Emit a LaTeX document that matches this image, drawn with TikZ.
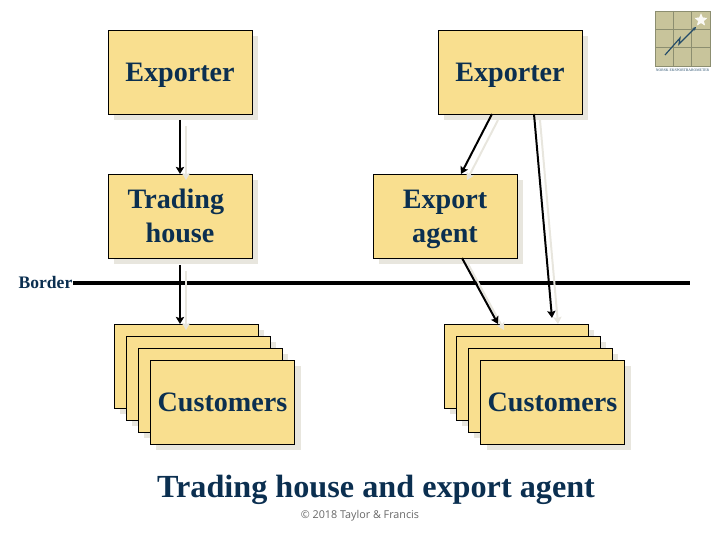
\documentclass[tikz,border=0pt]{standalone}
\usepackage{fontspec}
\setmainfont{Liberation Serif}
\newfontfamily\notefont{Open Sans}
\usetikzlibrary{arrows.meta,shadows,shapes.geometric}
\begin{document}
\begin{tikzpicture}[x=0.03cm,y=-0.03cm]
  % Colores
  \definecolor{boxcolor}{RGB}{249, 223, 143}
  \definecolor{textcolor}{RGB}{11, 47, 80}
  \definecolor{shadecolor}{RGB}{232, 230, 222}
  \definecolor{logocolor}{RGB}{200, 196, 155}
  \definecolor{logoline}{RGB}{140, 142, 112}
  \definecolor{logoblue}{RGB}{35, 75, 105}

  % Estilos
  \tikzset{
    box/.style={fill=boxcolor, draw=black, line width=0.7pt, minimum width=4.32cm, minimum height=2.52cm, inner sep=0pt, text=textcolor, font=\fontsize{24}{29}\selectfont\bfseries, align=center, drop shadow={shadow xshift=0.18cm, shadow yshift=-0.18cm, fill=shadecolor, opacity=1}},
    link/.style={draw=black, line width=1.7pt, -{Stealth[length=6pt,width=7pt,inset=1pt]}},
    linkshade/.style={draw=shadecolor, line width=1.7pt, -{Stealth[length=6pt,width=7pt,inset=1pt]}, transform canvas={xshift=0.18cm, yshift=-0.18cm}}
  }

  \useasboundingbox (0,0) rectangle (720,540);

  % Linea de frontera
  \node[font=\fontsize{15}{16}\selectfont\bfseries, text=textcolor, inner sep=0pt, anchor=base] (borderlabel) at (45.5,289) {Border};
  \coordinate (borderend) at (690,283);
  \draw[line width=3pt] (borderlabel.east |- borderend) -- (borderend);

  % Cajas superiores
  \node[box] (exporterA) at (180,72) {Ex\smash{p}orter};
  \node[box] (exporterB) at (510,72) {Ex\smash{p}orter};
  \node[box] (trading) at (180,216) {Trading\hspace*{7pt}\\house};
  \node[box] (agent) at (445,216) {Export\\a\smash{g}ent};

  % Pilas de clientes
  \node[box] (custA1) at (186,366) {};
  \node[box] (custA2) at (198,378) {};
  \node[box] (custA3) at (210,390) {};
  \node[box] (custA4) at (222.5,402) {Customers};
  \node[box] (custB1) at (516,366) {};
  \node[box] (custB2) at (528,378) {};
  \node[box] (custB3) at (540,390) {};
  \node[box] (custB4) at (552.5,402) {Customers};

  % Puntos de las flechas
  \coordinate (tradeIn) at (180,120);
  \coordinate (tradeEnd) at (180,174);
  \coordinate (tradeOut) at (180,265);
  \coordinate (custAEnd) at (180,324);
  \coordinate (agentIn) at (492,114);
  \coordinate (agentEnd) at (461,174);
  \coordinate (directIn) at (534,114);
  \coordinate (directEnd) at (552,318);
  \coordinate (agentOut) at (462,258);
  \coordinate (custBEnd) at (498,324);

  % Flechas
  \foreach \from/\to in {tradeIn/tradeEnd, tradeOut/custAEnd, agentIn/agentEnd, directIn/directEnd, agentOut/custBEnd} {
    \draw[linkshade] (\from) -- (\to);
    \draw[link] (\from) -- (\to);
  }

  % Titulo y nota
  \node[font=\fontsize{27.5}{30}\selectfont\bfseries, text=textcolor, inner sep=0pt, anchor=base] (title) at (376,497) {Trading house and export agent};
  \node[font=\notefont\fontsize{9.2}{10}\selectfont, text=black!60, inner sep=0pt] (note) at (360,516) {© 2018 Taylor \& Francis};

  % Logo
  \fill[logocolor] (655,11) rectangle (710,66);
  \foreach \pos in {673.3,691.6} {
    \draw[logoline, line width=0.5pt] (\pos,11) -- (\pos,66);
  }
  \foreach \pos in {29.3,47.6} {
    \draw[logoline, line width=0.5pt] (655,\pos) -- (710,\pos);
  }
  \draw[logoline, line width=0.5pt] (655,11) rectangle (710,66);
  \draw[logoblue, line width=1pt, -{Stealth[length=3pt,width=3pt]}] (665,55) -- (680,38) -- (679,44) -- (696,27);
  \node[star, star points=5, star point ratio=2.2, fill=white!90!logocolor, draw=white, inner sep=0pt, minimum size=0.36cm] (logostar) at (701,20) {};
  \node[font=\fontsize{3.2}{4}\selectfont, text=logoblue, inner sep=0pt] (logotext) at (682.5,70.5) {NORSK EKSPORTBAROMETER};
\end{tikzpicture}
\end{document}
